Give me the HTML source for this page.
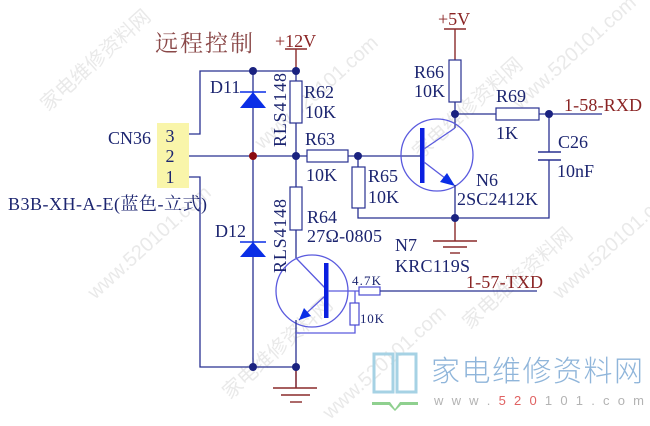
<!DOCTYPE html>
<html><head><meta charset="utf-8">
<style>
html,body{margin:0;padding:0;background:#fff;}
svg{display:block;}
.t{font-family:"Liberation Serif","Noto Serif CJK SC",serif;font-size:18px;fill:#1c2570;}
.r{font-family:"Liberation Serif","Noto Serif CJK SC",serif;font-size:18px;fill:#8a2424;}
.w{stroke:#283191;stroke-width:1.3;fill:none;}
.rb{stroke:#8a2a2a;stroke-width:1.4;fill:none;}
.res{stroke:#283191;stroke-width:1.2;fill:#fff;}
.cir{stroke:#5a5ade;stroke-width:1.3;fill:none;}
.wm{font-family:"Liberation Sans","Noto Sans CJK SC",sans-serif;font-size:20px;fill:#d8d8d8;opacity:0.55;}
</style></head>
<body>
<svg width="650" height="426" viewBox="0 0 650 426" xmlns="http://www.w3.org/2000/svg">
<rect width="650" height="426" fill="#fff"/>

<!-- watermarks -->
<text class="wm" transform="translate(48,112) rotate(-42)">家电维修资料网</text>
<text class="wm" transform="translate(95,300) rotate(-42)">www.520101.com</text>
<text class="wm" transform="translate(262,150) rotate(-42)">www.520101.com</text>
<text class="wm" transform="translate(420,160) rotate(-42)">家电维修资料网</text>
<text class="wm" transform="translate(520,110) rotate(-42)">www.520101.com</text>
<text class="wm" transform="translate(470,330) rotate(-42)">家电维修资料网</text>
<text class="wm" transform="translate(560,300) rotate(-42)">www.520101.com</text>
<text class="wm" transform="translate(230,400) rotate(-42)">家电维修资料网</text>
<text class="wm" transform="translate(330,420) rotate(-42)">www.520101.com</text>

<!-- Title -->
<text x="155" y="51" font-family="'Noto Serif CJK SC','Liberation Serif',serif" font-size="23" fill="#8a4848" textLength="98">远程控制</text>

<!-- +12V -->
<text class="r" x="275" y="47">+12V</text>
<line class="rb" x1="285" y1="49" x2="307" y2="49"/>
<line class="rb" x1="296" y1="49" x2="296" y2="71"/>

<!-- top rail -->
<polyline class="w" points="189,134 200,134 200,71 296,71"/>
<!-- R62 -->
<line class="w" x1="296" y1="71" x2="296" y2="187"/>
<rect class="res" x="290" y="81" width="12" height="42"/>
<!-- D11 -->
<line class="w" x1="253" y1="71" x2="253" y2="367"/>
<line x1="240" y1="92" x2="266" y2="92" stroke="#0a2ee6" stroke-width="1.6"/>
<polygon points="253,92 240,108 266,108" fill="#0a2ee6"/>
<!-- D12 -->
<line x1="240" y1="242" x2="266" y2="242" stroke="#0a2ee6" stroke-width="1.6"/>
<polygon points="253,242 240,257 266,257" fill="#0a2ee6"/>

<!-- CN36 -->
<rect x="157" y="123" width="32" height="65" fill="#f9f5aa"/>
<text class="t" x="170" y="142" text-anchor="middle">3</text>
<text class="t" x="170" y="162" text-anchor="middle">2</text>
<text class="t" x="170" y="183" text-anchor="middle">1</text>
<text class="t" x="108" y="144">CN36</text>
<text class="t" x="8" y="210" textLength="199">B3B-XH-A-E(蓝色-立式)</text>

<!-- pin 2 line -->
<line class="w" x1="189" y1="156" x2="307" y2="156"/>
<!-- pin 1 -->
<polyline class="w" points="189,177 200,177 200,367 296,367"/>

<!-- R63 -->
<rect class="res" x="307" y="150" width="41" height="12"/>
<line class="w" x1="348" y1="156" x2="422" y2="156"/>
<!-- R65 -->
<line class="w" x1="358" y1="156" x2="358" y2="167"/>
<rect class="res" x="352" y="167" width="13" height="41"/>
<polyline class="w" points="358,208 358,218 549,218 549,160"/>

<!-- R64 -->
<rect class="res" x="290" y="187" width="12" height="43"/>
<polyline class="w" points="296,230 296,258"/>

<!-- N7 transistor -->
<circle class="cir" cx="312" cy="291" r="36"/>
<line class="cir" x1="296" y1="258" x2="325" y2="288"/>
<line class="cir" x1="325" y1="296" x2="299" y2="320"/>
<polygon points="299,320 311,316 304,308" fill="#0a2ee6"/>
<rect x="324" y="263" width="4.5" height="55" fill="#0a1fe0"/>
<line class="cir" x1="328" y1="291" x2="359" y2="291"/>
<line class="w" x1="296" y1="320" x2="296" y2="388"/>
<polyline class="cir" points="296,333 355,333 355,325"/>
<line class="cir" x1="355" y1="291" x2="355" y2="303"/>
<rect class="res" x="350" y="303" width="9" height="22" style="stroke:#4a4ad0"/>
<rect class="res" x="359" y="287" width="21" height="8" style="stroke:#4a4ad0"/>
<line class="w" x1="380" y1="291" x2="537" y2="291"/>
<text class="t" x="352" y="285" font-size="13" style="font-size:13px" textLength="29">4.7K</text>
<text class="t" x="360" y="323" style="font-size:13px" textLength="24">10K</text>

<!-- bottom ground -->
<line class="rb" x1="296" y1="367" x2="296" y2="388"/>
<line class="rb" x1="273" y1="388" x2="317" y2="388"/>
<line class="rb" x1="281" y1="395" x2="310" y2="395"/>
<line class="rb" x1="290" y1="402" x2="302" y2="402"/>

<!-- +5V -->
<text class="r" x="438" y="25">+5V</text>
<line class="rb" x1="444" y1="29" x2="466" y2="29"/>
<line class="rb" x1="455" y1="29" x2="455" y2="60"/>
<rect class="res" x="449" y="60" width="12" height="42"/>
<line class="w" x1="455" y1="102" x2="455" y2="128"/>
<!-- R69 -->
<line class="w" x1="455" y1="114" x2="496" y2="114"/>
<rect class="res" x="496" y="108" width="43" height="12"/>
<line class="w" x1="539" y1="114" x2="602" y2="114"/>
<!-- C26 -->
<line class="w" x1="549" y1="114" x2="549" y2="152"/>
<line class="w" x1="538" y1="152" x2="561" y2="152" style="stroke-width:1.6"/>
<line class="w" x1="538" y1="160" x2="561" y2="160" style="stroke-width:1.6"/>

<!-- N6 transistor -->
<circle class="cir" cx="437" cy="155" r="36"/>
<rect x="420" y="128" width="4.5" height="55" fill="#0a1fe0"/>
<line class="cir" x1="424" y1="149" x2="455" y2="128"/>
<line class="cir" x1="424" y1="162" x2="454" y2="185"/>
<polygon points="455,186 440,182 447,173" fill="#0a2ee6"/>
<line class="w" x1="455" y1="185" x2="455" y2="218"/>
<!-- N6 ground -->
<line class="rb" x1="455" y1="218" x2="455" y2="241"/>
<line class="rb" x1="433" y1="241" x2="477" y2="241"/>
<line class="rb" x1="443" y1="247" x2="467" y2="247"/>
<line class="rb" x1="450" y1="253" x2="460" y2="253"/>

<!-- dots -->
<g fill="#1a2280">
<circle cx="253" cy="71" r="4"/>
<circle cx="296" cy="71" r="4"/>
<circle cx="296" cy="156" r="4"/>
<circle cx="358" cy="156" r="4"/>
<circle cx="455" cy="114" r="4"/>
<circle cx="549" cy="114" r="4"/>
<circle cx="455" cy="218" r="4"/>
<circle cx="253" cy="367" r="4"/>
<circle cx="296" cy="367" r="4"/>
</g>
<circle cx="253" cy="156" r="4" fill="#8b0a10"/>

<!-- labels -->
<text class="t" x="210" y="93">D11</text>
<text class="t" x="304" y="98">R62</text>
<text class="t" x="305" y="118">10K</text>
<text class="t" x="305" y="145">R63</text>
<text class="t" x="306" y="181">10K</text>
<text class="t" transform="translate(286,147) rotate(-90)" textLength="74">RLS4148</text>
<text class="t" transform="translate(286,273) rotate(-90)" textLength="74">RLS4148</text>
<text class="t" x="215" y="237">D12</text>
<text class="t" x="307" y="223">R64</text>
<text class="t" x="307" y="242" textLength="75">27Ω-0805</text>
<text class="t" x="368" y="182">R65</text>
<text class="t" x="368" y="203">10K</text>
<text class="t" x="414" y="78">R66</text>
<text class="t" x="414" y="97">10K</text>
<text class="t" x="496" y="102">R69</text>
<text class="t" x="496" y="139">1K</text>
<text class="r" x="564" y="111" textLength="78">1-58-RXD</text>
<text class="t" x="558" y="148">C26</text>
<text class="t" x="557" y="177">10nF</text>
<text class="t" x="476" y="186">N6</text>
<text class="t" x="457" y="205" textLength="81">2SC2412K</text>
<text class="t" x="395" y="251">N7</text>
<text class="t" x="395" y="272" textLength="75">KRC119S</text>
<text class="r" x="466" y="288" textLength="77">1-57-TXD</text>

<!-- logo -->
<rect x="374" y="354" width="19" height="38" fill="none" stroke="#a6d2e4" stroke-width="3"/>
<rect x="397" y="354" width="19" height="38" fill="none" stroke="#a6d2e4" stroke-width="3"/>
<polygon points="372,402 390,402 395,409 400,402 418,402 418,405 401,405 395,411 389,405 372,405" fill="#8fd08f"/>
<text x="431" y="381" font-family="'Noto Sans CJK SC',sans-serif" font-size="29" font-weight="300" fill="#8fb5da" textLength="212">家电维修资料网</text>
<text x="434" y="405" font-family="'Liberation Sans',sans-serif" font-size="13" fill="#b3b3b3" textLength="210">w w w . <tspan fill="#e06262">5 2 0</tspan> 1 0 1 . c o m</text>
</svg>
</body></html>
